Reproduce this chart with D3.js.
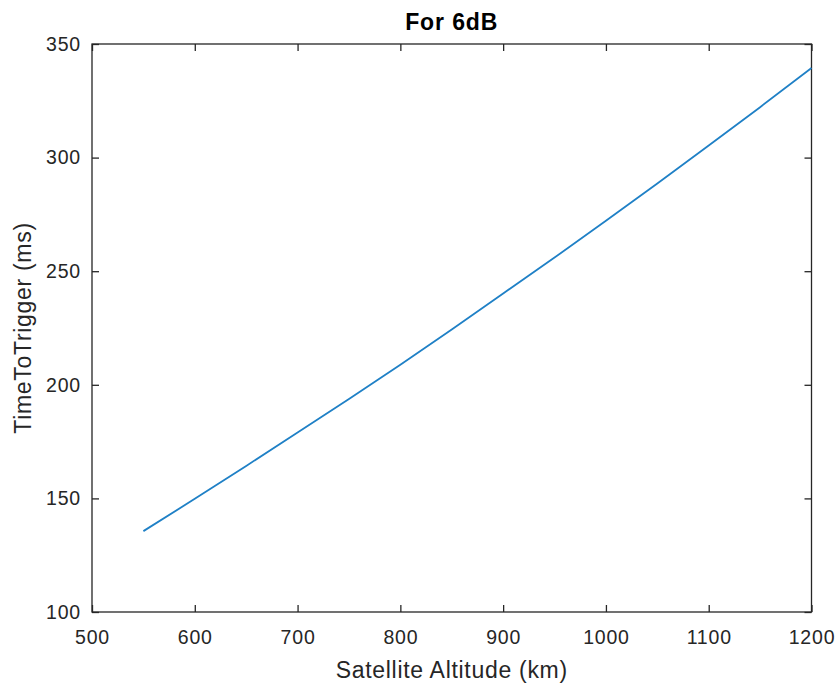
<!DOCTYPE html>
<html>
<head>
<meta charset="utf-8">
<script src="https://cdn.jsdelivr.net/npm/d3@7"></script>
<style>
  html, body { margin: 0; padding: 0; background: #fff; }
  svg text { font-family: "Liberation Sans", Arial, Helvetica, sans-serif; fill: #262626; }
</style>
</head>
<body>
<svg id="chart" width="840" height="684"></svg>
<script>
// Satellite altitude (km) and the corresponding time-to-trigger (ms)
const altitudes = [550, 600, 650, 700, 750, 800, 850, 900, 950, 1000, 1050, 1100, 1150, 1200];
const timeToTrigger = [135.6, 149.8, 164.3, 179.0, 193.8, 208.8, 224.3, 240.2, 256.0, 272.2, 288.6, 305.3, 322.2, 339.4];

const xTicks = [500, 600, 700, 800, 900, 1000, 1100, 1200];
const yTicks = [100, 150, 200, 250, 300, 350];

const titleText = "For 6dB";
const xLabel = "Satellite Altitude (km)";
const yLabel = "TimeToTrigger (ms)";

const margin = { left: 92, right: 28.5, top: 44, bottom: 72 };
const W = 840, H = 684;
const svg = d3.select("#chart");

const x = d3.scaleLinear().domain([500, 1200]).range([margin.left, W - margin.right]);
const y = d3.scaleLinear().domain([100, 350]).range([H - margin.bottom, margin.top]);

const axisColor = "#262626";
const tickLen = 7;
const tickFont = 19.5;
const fmt = d3.format("d");

function styleTicks(g, withText) {
  g.select(".domain").remove();
  g.selectAll(".tick line").attr("stroke", axisColor).attr("stroke-width", 1.3);
  if (withText) {
    g.selectAll(".tick text")
      .attr("font-size", tickFont)
      .attr("letter-spacing", 0.8)
      .attr("fill", axisColor);
  }
}

// Plot box
svg.append("rect")
  .attr("x", x(500)).attr("y", y(350))
  .attr("width", x(1200) - x(500)).attr("height", y(100) - y(350))
  .attr("fill", "none").attr("stroke", axisColor).attr("stroke-width", 1.3);

// Bottom axis (inward ticks) with mirrored ticks on top
svg.append("g").attr("transform", `translate(0,${y(100)})`)
  .call(d3.axisBottom(x).tickValues(xTicks).tickFormat(fmt)
    .tickSizeInner(-tickLen).tickSizeOuter(0).tickPadding(18))
  .call(g => styleTicks(g, true));

svg.append("g").attr("transform", `translate(0,${y(350)})`)
  .call(d3.axisTop(x).tickValues(xTicks).tickFormat("")
    .tickSizeInner(-tickLen).tickSizeOuter(0))
  .call(g => styleTicks(g, false));

// Left axis with mirrored ticks on right
svg.append("g").attr("transform", `translate(${x(500)},0)`)
  .call(d3.axisLeft(y).tickValues(yTicks).tickFormat(fmt)
    .tickSizeInner(-tickLen).tickSizeOuter(0).tickPadding(11))
  .call(g => styleTicks(g, true));

svg.append("g").attr("transform", `translate(${x(1200)},0)`)
  .call(d3.axisRight(y).tickValues(yTicks).tickFormat("")
    .tickSizeInner(-tickLen).tickSizeOuter(0))
  .call(g => styleTicks(g, false));

// Data line
const line = d3.line().x((d, i) => x(altitudes[i])).y(d => y(d));
svg.append("path")
  .datum(timeToTrigger)
  .attr("d", line)
  .attr("fill", "none")
  .attr("stroke", "#1f80c6")
  .attr("stroke-width", 1.8);

// Title and axis labels
svg.append("text")
  .attr("x", (x(500) + x(1200)) / 2).attr("y", 30)
  .attr("text-anchor", "middle").attr("font-size", 23).attr("font-weight", "bold")
  .attr("letter-spacing", 0.9)
  .style("fill", "#000")
  .text(titleText);

svg.append("text")
  .attr("x", (x(500) + x(1200)) / 2).attr("y", 678)
  .attr("text-anchor", "middle").attr("font-size", 23)
  .attr("letter-spacing", 0.7)
  .text(xLabel);

svg.append("text")
  .attr("transform", `translate(31,${(y(100) + y(350)) / 2}) rotate(-90)`)
  .attr("text-anchor", "middle").attr("font-size", 23)
  .attr("letter-spacing", 0.7)
  .text(yLabel);
</script>
</body>
</html>
